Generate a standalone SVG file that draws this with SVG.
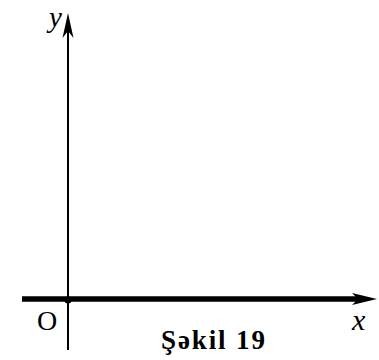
<svg xmlns="http://www.w3.org/2000/svg" width="379" height="360" viewBox="0 0 379 360">
<style>
.lbl{font-family:"Liberation Serif","Times New Roman","DejaVu Serif",serif;fill:#000}
.it{font-style:italic}
.axis{stroke:#000;fill:none}
</style>
<rect width="379" height="360" fill="#fff"/>
<g id="connectors">
<line class="axis" x1="68" y1="350" x2="68" y2="28" stroke-width="2"/>
<path d="M68,13 L73.5,38 L68,31 L62.5,38 Z" fill="#000"/>
<line class="axis" x1="22" y1="299" x2="362" y2="299" stroke-width="5.5"/>
<path d="M377,299 L352,293 L358,299 L352,305 Z" fill="#000"/>
</g>
<g id="origin">
<circle cx="68" cy="300" r="3.5" fill="#000"/>
<text class="lbl" x="37" y="330" font-size="28">O</text>
</g>
<g id="ylabel"><text class="lbl it" x="49" y="27" font-size="29">y</text></g>
<g id="xlabel"><text class="lbl it" x="352" y="330" font-size="30">x</text></g>
<g id="caption"><text class="lbl" x="161" y="349" font-size="27" font-weight="bold" textLength="104" lengthAdjust="spacing">Şəkil 19</text></g>
</svg>
